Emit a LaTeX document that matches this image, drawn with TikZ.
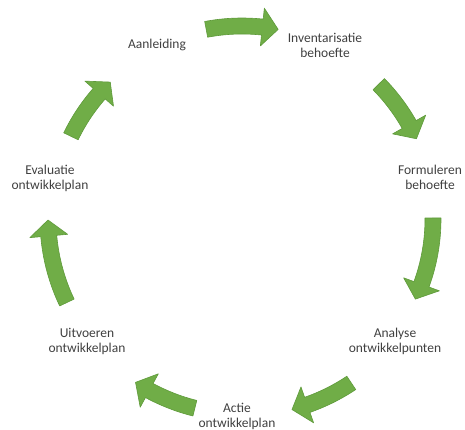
\documentclass[tikz,border=0pt]{standalone}
\usepackage{fontspec}
\setmainfont{Carlito}
\usepackage{xcolor}
\usepackage{tikz}

\definecolor{arrowgreen}{HTML}{70AD47}
\definecolor{arrowline}{HTML}{5E9A3A}
\definecolor{textgray}{HTML}{404040}

% curved block arrow round (c): radius, tail angle, tip angle
\newcommand{\cyclearrow}[3]{%
  \pgfmathsetmacro{\headang}{#3+16/#1*57.2958}
  \filldraw[blockarrow, shift={(c)}]
    (#2:{#1+8}) arc[start angle=#2, end angle=\headang, radius={#1+8}]
    -- (\headang:{#1+19}) -- (#3:#1) -- (\headang:{#1-19})
    -- (\headang:{#1-8}) arc[start angle=\headang, end angle=#2, radius={#1-8}]
    -- cycle;
}

\begin{document}
\begin{tikzpicture}[x=1pt, y=1pt,
    steplabel/.style={align=center, text=textgray, inner sep=0pt,
      font=\fontsize{13.5}{15}\selectfont},
    blockarrow/.style={fill=arrowgreen, draw=arrowline, line width=0.6pt, line join=round}]
        \useasboundingbox (0,0) rectangle (465,430);

        % Centre of the cycle
        \coordinate (c) at (242,211);

        % Steps
        \node[steplabel] (aanleiding) at (157,385) {Aanleiding};
        \node[steplabel] (inventarisatie) at (325,384.5) {Inventarisatie\\behoefte};
        \node[steplabel] (formuleren) at (430,253) {Formuleren\\behoefte};
        \node[steplabel] (analyse) at (395,88.5) {Analyse\\ontwikkelpunten};
        \node[steplabel] (actie) at (237,14) {Actie\\ontwikkelplan};
        \node[steplabel] (uitvoeren) at (87,89) {Uitvoeren\\ontwikkelplan};
        \node[steplabel] (evaluatie) at (50,252) {Evaluatie\\ontwikkelplan};

        % Arrows
        \cyclearrow{193}{100.7}{79.2}
        \cyclearrow{192}{44.6}{24.7}
        \cyclearrow{191}{0.3}{-24.8}
        \cyclearrow{197}{-56.3}{-75.3}
        \cyclearrow{195}{-104}{-123.1}
        \cyclearrow{194}{-154.5}{-179.7}
        \cyclearrow{190}{154.2}{133.9}
    \end{tikzpicture}
\end{document}
